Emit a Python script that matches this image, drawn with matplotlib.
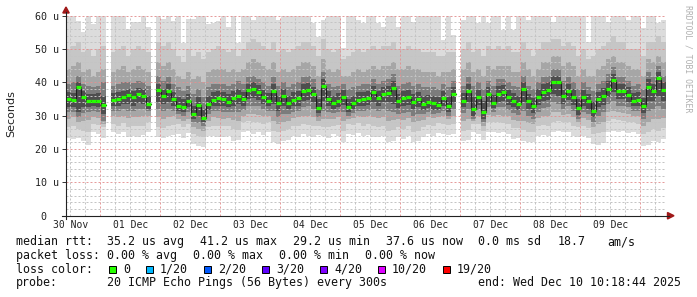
import numpy as np
import matplotlib
matplotlib.use("Agg")
import matplotlib.pyplot as plt
from matplotlib.patches import Polygon, Rectangle
from matplotlib.lines import Line2D
from matplotlib.transforms import blended_transform_factory

nan = np.nan
plt.rcParams["lines.scale_dashes"] = False

# ---------------- data ----------------
start_hour = 10.312      # Nov 30 10:18:44, hours since Nov 30 00:00
step_hours = 2.0
span_hours = 240.0

median = [34.9,34.6,38.5,35.5,34.3,34.5,34.5,33.3,nan,34.7,
          35.0,35.7,36.2,35.5,36.4,36.0,33.5,nan,37.7,36.0,
          37.5,35.0,33.0,32.5,34.5,30.4,33.1,29.2,33.6,34.8,
          35.2,34.9,34.2,35.2,36.0,34.9,37.7,38.0,37.2,35.7,
          34.5,37.5,33.9,35.9,33.9,34.7,35.2,37.4,37.7,36.5,
          32.4,38.9,35.1,33.7,34.5,35.7,32.5,33.7,34.7,34.9,
          35.2,37.0,35.2,36.5,36.9,38.2,34.4,35.2,35.5,34.2,
          34.9,33.5,34.2,33.7,33.3,35.2,32.9,36.4,nan,34.5,
          37.4,32.0,35.5,31.0,36.4,33.9,36.5,37.0,35.5,34.5,
          33.6,38.0,34.4,32.9,35.7,37.2,37.7,40.2,40.0,35.9,
          37.4,35.7,32.2,35.5,34.4,31.5,34.9,35.9,38.1,40.6,
          37.4,37.4,36.2,34.5,34.7,32.9,38.7,37.4,41.2,37.6]

lo1 = [23.2,23.0,23.4,22.5,21.2,25.0,24.6,23.2,nan,25.0,
       24.5,25.2,23.7,24.0,23.6,24.2,25.2,nan,23.5,23.2,
       23.8,24.2,24.5,23.2,24.7,21.5,20.8,20.7,23.8,24.0,
       23.7,23.7,24.0,22.5,22.7,25.0,25.4,24.6,25.0,24.2,
       25.0,22.0,21.4,22.3,22.8,24.0,23.6,24.4,24.0,23.5,
       24.2,24.0,23.4,24.5,24.0,22.0,24.5,24.2,24.8,24.0,
       24.3,23.7,23.5,23.8,22.0,22.5,23.5,23.0,24.0,22.0,
       22.3,23.5,24.5,24.0,24.8,24.5,24.2,24.6,nan,22.5,
       22.8,25.0,24.6,22.7,25.0,25.2,24.8,25.0,24.5,23.0,
       23.2,22.4,22.0,22.2,24.0,24.2,23.8,25.2,25.5,25.0,
       25.2,24.0,23.5,23.8,23.2,21.5,21.2,21.8,25.2,25.5,
       25.0,25.3,24.8,25.0,24.6,21.0,21.3,22.5,22.0,23.0]

hi1 = [61,61,58.5,55,61,57.5,61,61,nan,61,
       61,61,56,58,58,61,56.5,nan,61,59,
       61,58.5,61,51.7,59,59,61,61,57.5,57.7,
       58.5,61,56.7,61,51.7,61,61,58.7,61,61,
       61,61,58.7,61,61,61,61,61,61,57.7,
       53.7,58.7,61,61,61,50.2,61,61,58.7,57.7,
       61,61,57.7,56.7,61,61,56.7,61,61,58.2,
       61,61,61,61,61,52.7,61,54.2,nan,58.7,
       61,61,57.7,61,57.7,61,61,55.7,61,55.7,
       61,61,58.7,61,61,61,61,58.2,61,61,
       61,61,61,61,52.2,61,61,61,58.2,61,
       61,61,58.7,61,61,56.2,61,61,57.7,58.7]

lo2 = [26.5,26.8,26.0,25.5,25.0,27.5,27.2,26.5,nan,27.5,
       27.0,27.8,26.5,27.0,26.8,27.0,28.0,nan,26.5,26.2,
       26.8,27.2,27.5,26.5,27.5,24.5,24.0,23.5,26.5,27.0,
       26.8,26.8,27.0,26.0,25.8,28.0,28.5,28.0,28.2,27.5,
       28.0,25.5,25.0,25.5,26.0,27.0,27.0,27.5,27.2,26.8,
       27.0,26.5,26.5,27.0,27.2,25.5,27.5,27.2,27.8,27.0,
       27.5,26.8,26.5,26.8,25.5,25.8,26.5,26.0,26.8,25.0,
       25.5,26.5,27.2,27.0,27.8,27.5,27.2,27.5,nan,25.5,
       25.8,27.5,27.5,25.5,28.0,28.2,28.0,27.8,27.5,26.2,
       26.2,25.8,25.0,25.2,27.0,27.2,27.0,28.2,28.5,28.0,
       28.2,27.0,26.5,26.8,26.2,24.5,24.8,25.0,28.5,29.0,
       28.8,28.5,28.2,28.0,27.5,24.5,25.0,26.0,25.5,26.2]

hi2 = [50,51,52,49,50,48,50,51,nan,49,
       50,51,48,50,51,50,49,nan,52,51,
       52,50,48,46,50,48,49,47,49,50,
       51,50,49,50,48,50,52,53,52,51,
       50,52,49,50,49,50,51,52,52,51,
       48,53,50,49,50,47,48,49,50,49,
       50,51,50,51,51,52,50,50,51,50,
       50,49,49,49,48,48,49,49,nan,50,
       52,49,50,48,51,50,51,50,51,49,
       49,52,50,48,50,52,52,53,53,51,
       52,51,48,50,47,48,50,51,52,54,
       52,52,50,50,50,48,52,52,54,52]

lo3 = [29.0,29.5,28.0,28.5,28.8,29.5,29.3,27.5,nan,29.8,
       29.5,30.0,29.2,29.5,29.5,29.8,30.0,nan,29.5,29.0,
       29.5,29.8,29.0,28.5,29.0,26.5,26.0,25.5,28.5,29.5,
       29.2,29.0,29.2,28.8,28.5,30.0,30.5,30.5,30.2,30.0,
       30.0,28.5,27.5,28.0,28.5,29.2,29.5,30.0,30.0,29.5,
       28.5,29.0,29.0,29.0,29.5,28.5,29.0,29.2,29.8,29.5,
       29.8,29.5,29.2,29.5,28.5,28.8,29.0,28.8,29.2,28.0,
       28.5,28.8,29.5,29.2,29.5,29.8,29.0,29.8,nan,28.5,
       29.0,28.5,29.8,27.0,30.2,30.0,30.2,30.0,29.8,28.8,
       28.5,28.5,27.8,27.5,29.2,29.8,29.8,31.0,31.0,30.2,
       30.5,29.5,28.0,29.2,28.8,26.5,27.5,28.0,31.0,31.5,
       31.0,30.8,30.5,30.0,29.8,27.0,28.0,29.0,29.0,29.2]

hi3 = [44,45,46,43,44,42,43,44,nan,43,
       44,45,43,44,45,44,43,nan,46,45,
       46,44,42,41,43,41,42,40,43,44,
       44,44,43,44,43,44,46,47,46,45,
       44,46,43,44,43,44,45,46,46,45,
       42,47,44,43,44,42,42,43,44,43,
       44,45,44,45,45,46,44,44,45,44,
       44,43,43,43,42,43,43,44,nan,44,
       46,43,44,42,45,44,45,45,45,43,
       43,46,44,42,44,46,46,48,48,45,
       46,45,42,44,42,42,44,45,47,48,
       46,46,45,44,44,42,47,46,48,46]

lo4 = [31.0,31.2,29.5,30.8,31.0,31.5,31.2,28.5,nan,31.5,
       31.5,32.0,31.5,31.5,32.0,32.0,31.5,nan,32.0,31.5,
       32.0,31.5,30.5,30.0,31.0,28.0,27.8,27.0,30.5,31.5,
       31.5,31.2,31.0,31.0,31.0,31.8,33.0,33.0,32.8,32.0,
       31.5,31.5,29.5,30.5,30.5,31.0,31.5,32.5,32.8,32.0,
       29.5,31.5,31.0,30.8,31.2,31.0,30.0,30.8,31.5,31.5,
       31.8,32.0,31.5,32.0,31.5,31.0,30.5,30.8,31.2,30.0,
       30.5,30.5,31.0,30.5,30.8,31.5,30.0,32.0,nan,30.8,
       32.0,29.0,31.8,28.0,32.5,31.2,32.5,32.5,31.8,30.8,
       30.2,31.5,30.0,29.0,31.2,32.2,32.5,34.0,33.5,32.0,
       32.8,31.5,29.0,31.2,30.5,28.0,30.0,31.0,33.5,34.5,
       33.0,33.0,32.5,31.5,31.5,29.0,31.5,32.0,33.0,32.0]

hi4 = [39.5,40.0,42.0,39.5,39.0,38.5,39.0,40.0,nan,39.0,
       39.5,40.0,40.0,39.8,40.5,40.0,39.0,nan,42.0,40.5,
       41.5,39.5,38.5,37.5,39.0,36.5,38.0,35.5,38.5,39.5,
       39.5,39.5,39.0,39.5,40.5,39.5,41.5,42.0,41.0,40.0,
       39.0,41.5,39.0,40.0,38.5,39.5,40.0,41.5,42.0,41.0,
       38.0,43.0,39.5,38.5,39.0,39.5,38.0,38.5,39.0,39.5,
       39.5,41.0,39.5,40.5,41.0,42.5,39.0,39.5,40.0,39.0,
       39.5,38.5,38.5,38.5,38.0,39.5,38.5,40.5,nan,39.0,
       41.5,39.0,40.0,38.0,40.5,39.0,41.0,41.0,40.0,39.0,
       38.5,42.0,39.0,38.0,40.0,41.5,42.0,44.0,44.0,40.5,
       41.5,40.0,38.0,40.0,38.5,37.5,39.5,40.5,42.5,44.5,
       41.5,41.5,40.5,39.0,39.5,38.0,43.0,41.5,45.0,42.0]

lo5 = [32.5,32.6,31.0,32.5,32.5,32.8,32.6,30.5,nan,32.8,
       33.0,33.5,33.5,33.0,33.8,33.5,32.0,nan,34.0,33.5,
       34.0,33.0,31.5,31.0,32.5,29.0,30.0,28.0,31.8,33.0,
       33.0,32.8,32.5,33.0,33.5,33.0,35.0,35.2,34.8,33.5,
       32.8,33.5,31.5,33.0,32.0,32.8,33.0,34.5,34.8,34.0,
       30.8,34.5,33.0,32.0,32.5,33.2,31.0,32.0,32.8,33.0,
       33.2,34.0,33.0,34.0,34.0,33.5,32.2,32.8,33.2,32.0,
       32.5,31.8,32.2,31.8,31.8,33.0,31.2,34.0,nan,32.5,
       34.2,30.0,33.2,29.0,34.2,32.2,34.2,34.5,33.2,32.5,
       31.8,34.0,32.0,30.8,33.2,34.5,34.8,36.5,36.0,33.5,
       34.8,33.2,30.2,33.0,32.0,29.5,32.5,33.2,35.5,37.0,
       35.0,35.0,34.0,32.8,33.0,30.8,34.5,34.5,36.0,34.5]

hi5 = [37.0,36.8,40.0,37.5,36.5,36.5,36.8,36.0,nan,36.8,
       37.0,37.5,38.0,37.5,38.3,38.0,36.0,nan,39.5,38.0,
       39.5,37.0,35.5,35.0,36.5,33.0,35.5,32.0,36.0,37.0,
       37.3,37.0,36.5,37.5,38.0,37.0,39.5,40.0,39.2,37.8,
       36.8,39.5,36.0,38.0,36.0,37.0,37.5,39.5,39.8,38.5,
       35.0,41.0,37.5,36.0,36.8,37.8,35.0,36.0,37.0,37.0,
       37.3,39.0,37.5,38.5,39.0,40.5,36.5,37.5,37.8,36.5,
       37.0,35.8,36.3,36.0,35.5,37.5,35.5,38.5,nan,36.8,
       39.5,35.5,37.8,34.5,38.5,36.2,38.8,39.2,37.8,36.8,
       35.8,40.0,36.5,35.2,38.0,39.5,40.0,42.0,42.0,38.0,
       39.5,38.0,35.0,37.8,36.5,34.0,37.0,38.2,40.5,42.5,
       39.5,39.5,38.5,36.8,37.0,35.2,41.0,39.5,43.0,40.0]

day_labels = ["30 Nov", "01 Dec", "02 Dec", "03 Dec", "04 Dec",
              "05 Dec", "06 Dec", "07 Dec", "08 Dec", "09 Dec"]
y_ticks = [0, 10, 20, 30, 40, 50, 60]
y_tick_labels = ["0  ", "10 u", "20 u", "30 u", "40 u", "50 u", "60 u"]

loss_labels = ["0", "1/20", "2/20", "3/20", "4/20", "10/20", "19/20"]
loss_colors = ["#26ff00", "#00b8ff", "#0059ff", "#5e00ff", "#7e00ff", "#dd00ff", "#ff0000"]

# ---------------- figure ----------------
W, H = 697, 297
fig = plt.figure(figsize=(W / 100, H / 100), dpi=100)
fig.patch.set_facecolor("white")

def fx(x):
    return x / W

def fy(y):
    return 1 - y / H

ax_left, ax_right, ax_top, ax_bot = 66, 666, 15.7, 215.7
ax = fig.add_axes([fx(ax_left), fy(ax_bot), (ax_right - ax_left) / W, (ax_bot - ax_top) / H])
ax.set_facecolor("white")
ax.set_xlim(start_hour, start_hour + span_hours)
ax.set_ylim(0, 60)
for s in ax.spines.values():
    s.set_visible(False)

mono = "DejaVu Sans Mono"

t = start_hour + step_hours * np.arange(len(median))
bands = [(lo1, hi1, "#dcdcdc"), (lo2, hi2, "#c6c6c6"), (lo3, hi3, "#a6a6a6"),
         (lo4, hi4, "#7c7c7c"), (lo5, hi5, "#4e4e4e")]
for z, (lo, hi, col) in enumerate(bands):
    lo = np.array(lo, float)
    hi = np.array(hi, float)
    ok = ~np.isnan(lo)
    ax.bar(t[ok], (hi - lo)[ok], bottom=lo[ok], width=step_hours, align="edge",
           color=col, linewidth=0, antialiased=False, zorder=1 + z)

# grid: dotted look (2px dash / 2px gap), light colours
dot = (0, (1.44, 1.44))
grid_minor = dict(color="#c4c4c4", lw=0.72, ls=dot, alpha=1.0, zorder=7)
grid_major = dict(color="#e49090", lw=0.72, ls=dot, alpha=0.9, zorder=7)
for v in np.arange(2, 60.1, 2):
    if v % 10 == 0:
        ax.axhline(v, **grid_major)
    else:
        ax.axhline(v, **grid_minor)
for h in np.arange(12, start_hour + span_hours, 6):
    if h % 24 == 0:
        ax.axvline(h, **grid_major)
    else:
        ax.axvline(h, **grid_minor)

# median line
m = np.array(median, float)
ax.step(np.append(t, t[-1] + step_hours), np.append(m, m[-1]), where="post",
        color="#202020", lw=0.8, zorder=8)
okm = ~np.isnan(m)
ax.hlines(m[okm], t[okm], t[okm] + step_hours, colors=loss_colors[0], lw=2.3, zorder=9)

# ticks
ax.set_xticks([])
ax.set_yticks(y_ticks)
ax.set_yticklabels(y_tick_labels, fontfamily=mono, fontsize=7.2, color="#222222")
ax.tick_params(axis="y", length=3, width=0.7, color="#333333", pad=2.3, direction="out")

trans = blended_transform_factory(ax.transData, fig.transFigure)
for k, lab in enumerate(day_labels):
    ax.text(12 + 24 * k, fy(228.5), lab, transform=trans, ha="center", va="baseline",
            fontfamily=mono, fontsize=7.0, color="#222222")

# axes lines and arrows
fig.add_artist(Line2D([fx(62), fx(669)], [fy(ax_bot), fy(ax_bot)], color="#222222", lw=0.8))
fig.add_artist(Line2D([fx(ax_left), fx(ax_left)], [fy(219), fy(12)], color="#222222", lw=0.8))
arrow_col = "#a01818"
fig.add_artist(Polygon([[fx(667.5), fy(212.5)], [fx(674), fy(ax_bot)], [fx(667.5), fy(219)]],
                       closed=True, color=arrow_col, transform=fig.transFigure))
fig.add_artist(Polygon([[fx(62.8), fy(13)], [fx(ax_left), fy(7)], [fx(69.2), fy(13)]],
                       closed=True, color=arrow_col, transform=fig.transFigure))

# y label and watermark
fig.text(fx(11), fy(113.5), "Seconds", rotation=90, ha="center", va="center",
         fontsize=8, fontfamily="DejaVu Sans", color="#222222")
fig.text(fx(688), fy(59), "RRDTOOL / TOBI OETIKER", rotation=-90, ha="center", va="center",
         fontsize=5.9, fontfamily=mono, color="#b0b0b0")

# legend lines
fs = 8.4
def txt(x, y, s):
    fig.text(fx(x), fy(y), s, ha="left", va="baseline", fontsize=fs, fontfamily=mono, color="#111111")

b1, b2, b3, b4 = 245.3, 259.0, 272.7, 286.4
txt(16, b1, "median rtt:")
for x, s in [(107, "35.2 us avg"), (200, "41.2 us max"), (293, "29.2 us min"),
             (386, "37.6 us now"), (478, "0.0 ms sd"), (558, "18.7"), (607, "am/s")]:
    txt(x, b1, s)
txt(16, b2, "packet loss:")
for x, s in [(107, "0.00 % avg"), (193, "0.00 % max"), (279, "0.00 % min"), (365, "0.00 % now")]:
    txt(x, b2, s)
txt(16, b3, "loss color:")
box_x = [109, 146, 204, 262, 320, 378, 443]
for bx, lab, col in zip(box_x, loss_labels, loss_colors):
    fig.add_artist(Rectangle((fx(bx), fy(272.7)), 7 / W, 7 / H, facecolor=col,
                             edgecolor="black", lw=0.7, transform=fig.transFigure))
    txt(bx + 14, b3, lab)
txt(16, b4, "probe:")
txt(107, b4, "20 ICMP Echo Pings (56 Bytes) every 300s")
txt(478, b4, "end: Wed Dec 10 10:18:44 2025")

fig.savefig("out.png", dpi=100)
